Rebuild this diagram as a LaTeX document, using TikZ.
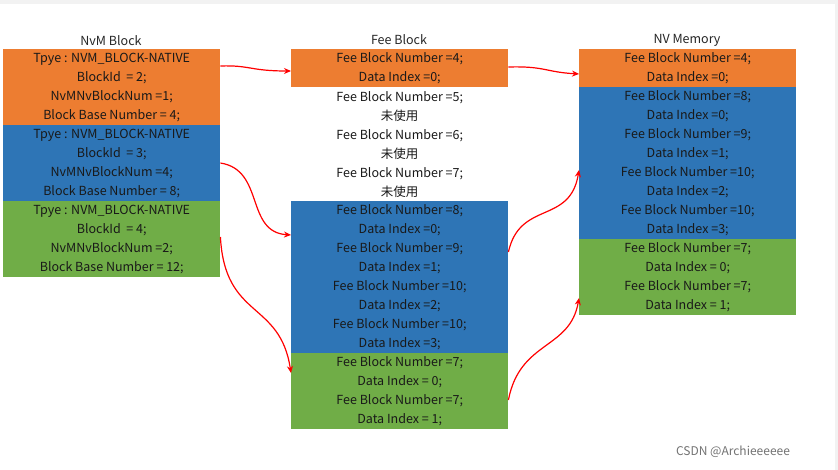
\documentclass[tikz,border=0pt]{standalone}
\usepackage{fontspec}
\setmainfont{Noto Sans CJK SC}
\usetikzlibrary{arrows.meta}
\definecolor{cor}{HTML}{ED7D31}
\definecolor{cbl}{HTML}{2E75B6}
\definecolor{cgr}{HTML}{70AD47}
\begin{document}
\begin{tikzpicture}[x=1pt,y=-1pt,
  blk/.style={anchor=north west,inner sep=0pt,minimum width=217pt,align=center,text=black!90,
    font=\fontsize{12.5}{19}\selectfont},
  ttl/.style={font=\fontsize{12.5}{15}\selectfont,text=black!85},
  arr/.style={red,line width=1.2pt,-{Stealth[length=7pt,width=6pt]}}]
\fill[black!5] (0,0) rectangle (838,4);
\fill[white] (0,4) rectangle (835,470);
\fill[black!5] (835,4) rectangle (838,470);
\useasboundingbox (0,0) rectangle (838,470);
% titles
\node[ttl] (t1) at (111,41) {NvM Block};
\node[ttl] (t2) at (399,40) {Fee Block};
\node[ttl] (t3) at (687,40) {NV Memory};
% left column
\node[blk,fill=cor,minimum height=76pt] (a1) at (3,49) {Tpye : NVM\_BLOCK-NATIVE\\BlockId~~= 2;\\NvMNvBlockNum =1;\\Block Base Number = 4;};
\node[blk,fill=cbl,minimum height=76pt] (a2) at (3,125) {Tpye : NVM\_BLOCK-NATIVE\\BlockId~~= 3;\\NvMNvBlockNum =4;\\Block Base Number = 8;};
\node[blk,fill=cgr,minimum height=76pt] (a3) at (3,201) {Tpye : NVM\_BLOCK-NATIVE\\BlockId~~= 4;\\NvMNvBlockNum =2;\\Block Base Number = 12;};
% middle column
\node[blk,fill=cor,minimum height=38pt] (b1) at (291,49) {Fee Block Number =4;\\Data Index =0;};
\node[blk,minimum height=114pt] (b0) at (291,87) {Fee Block Number =5;\\未使用\\Fee Block Number =6;\\未使用\\Fee Block Number =7;\\未使用};
\node[blk,fill=cbl,minimum height=152pt] (b2) at (291,201) {Fee Block Number =8;\\Data Index =0;\\Fee Block Number =9;\\Data Index =1;\\Fee Block Number =10;\\Data Index =2;\\Fee Block Number =10;\\Data Index =3;};
\node[blk,fill=cgr,minimum height=76pt] (b3) at (291,353) {Fee Block Number =7;\\Data Index = 0;\\Fee Block Number =7;\\Data Index = 1;};
% right column
\node[blk,fill=cor,minimum height=38pt] (c1) at (579,49) {Fee Block Number =4;\\Data Index =0;};
\node[blk,fill=cbl,minimum height=152pt] (c2) at (579,87) {Fee Block Number =8;\\Data Index =0;\\Fee Block Number =9;\\Data Index =1;\\Fee Block Number =10;\\Data Index =2;\\Fee Block Number =10;\\Data Index =3;};
\node[blk,fill=cgr,minimum height=76pt] (c3) at (579,239) {Fee Block Number =7;\\Data Index = 0;\\Fee Block Number =7;\\Data Index = 1;};
% connector end points
\coordinate (p1) at (a1.north east |- 0,66);
\coordinate (p2) at (a2.north east |- 0,163);
\coordinate (p3) at (a3.north east |- 0,237);
\coordinate (q1) at (b1.north west |- 0,71);
\coordinate (q2) at (b2.north west |- 0,235);
\coordinate (q3) at (b3.north west |- 0,373);
\coordinate (r1) at (b1.north east |- 0,67);
\coordinate (r2) at (b2.north east |- 0,252);
\coordinate (r3) at (b3.north east |- 0,400);
\coordinate (s1) at (c1.north west |- 0,74);
\coordinate (s2) at (c2.north west |- 0,170);
\coordinate (s3) at (c3.north west |- 0,298);
\draw[arr] (p1) .. controls (250,65) and (250,71) .. (q1);
\draw[arr] (p2) .. controls (265,170) and (245,232) .. (q2);
\draw[arr] (p3) .. controls (225,320) and (280,300) .. (q3);
\draw[arr] (r1) .. controls (545,66) and (545,72) .. (s1);
\draw[arr] (r2) .. controls (520,200) and (570,225) .. (s2);
\draw[arr] (r3) .. controls (520,340) and (570,350) .. (s3);
\node[font=\fontsize{12}{14}\selectfont,text=black!55] (wm) at (733,452) {CSDN @Archieeeeee};
\end{tikzpicture}
\end{document}
